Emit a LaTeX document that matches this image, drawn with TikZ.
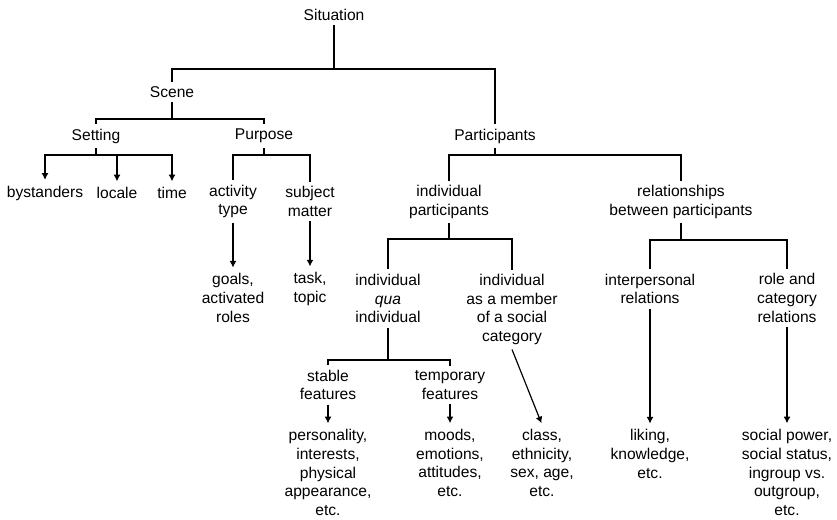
\documentclass[tikz,border=0pt]{standalone}
\usepackage{fontspec}
\setmainfont{Liberation Sans}
\usetikzlibrary{arrows.meta}

\begin{document}
\begin{tikzpicture}[x=0.75pt, y=-0.75pt, line width=0.9pt,
                        lbl/.style={align=center, inner xsep=0pt, inner ysep=3pt,
                                    font=\fontsize{11.7}{14.06}\selectfont},
                        pil/.style={-{Latex[length=5pt,width=5.2pt]}, shorten >=1pt}
                        ]
    \useasboundingbox (0,0) rectangle (837,519);
    % top levels
    \node (sit) [lbl] at (334,15) {Situation};
    \node (scene) [lbl] at (172,92) {Scene};
    \node (setting) [lbl] at (96,136) {Setting};
    \node (purpose) [lbl] at (264,136) {Purpose};
    \node (part) [lbl] at (495,136) {Participants};
    % scene
    \node (bys) [lbl] at (45,193) {bystanders};
    \node (loc) [lbl] at (117,193) {locale};
    \node (time) [lbl] at (172,193) {time};
    \node (act) [lbl] at (233,201.5) {activity\\type};
    \node (subj) [lbl] at (310,201.5) {subject\\matter};
    \node (goals) [lbl] at (233,298) {goals,\\activated\\roles};
    \node (task) [lbl] at (310,289) {task,\\topic};
    % participants
    \node (indp) [lbl] at (449,202) {individual\\participants};
    \node (rel) [lbl] at (681,202) {relationships\\between participants};
    \node (qua) [lbl] at (388,298.5) {individual\\\textit{qua}\\individual};
    \node (memb) [lbl] at (512,309.5) {individual\\as a member\\of a social\\category};
    \node (inter) [lbl] at (650,289) {interpersonal\\relations};
    \node (role) [lbl] at (787,298) {role and\\category\\relations};
    \node (stab) [lbl] at (328,385) {stable\\features};
    \node (temp) [lbl] at (450,385) {temporary\\features};
    \node (pers) [lbl] at (328,472.5) {personality,\\interests,\\physical\\appearance,\\etc.};
    \node (mood) [lbl] at (450,463) {moods,\\emotions,\\attitudes,\\etc.};
    \node (class) [lbl] at (542,463) {class,\\ethnicity,\\sex, age,\\etc.};
    \node (lik) [lbl] at (650,454) {liking,\\knowledge,\\etc.};
    \node (pow) [lbl] at (787,472.5) {social power,\\social status,\\ingroup vs.\\outgroup,\\etc.};

    \draw (sit.south) -- (sit.south |- 0,69) -| (scene.north);
    \draw (sit.south |- 0,69) -| (part.north);
    \draw (scene.south) -- (scene.south |- 0,119) -| (setting.north);
    \draw (scene.south |- 0,119) -| (purpose.north);
    \draw (setting.south) -- (setting.south |- 0,155);
    \draw[pil] (setting.south |- 0,155) -| (bys.north);
    \draw[pil] (setting.south |- 0,155) -| (time.north);
    \draw[pil] (loc.north |- 0,155) -- (loc.north);
    \draw (purpose.south) -- (purpose.south |- 0,155) -| (act.north);
    \draw (purpose.south |- 0,155) -| (subj.north);
    \draw[pil] (act.south) -- (goals.north);
    \draw[pil] (subj.south) -- (task.north);
    \draw (part.south) -- (part.south |- 0,155) -| (indp.north);
    \draw (part.south |- 0,155) -| (rel.north);
    \draw (indp.south) -- (indp.south |- 0,239) -| (qua.north);
    \draw (indp.south |- 0,239) -| (memb.north);
    \draw (rel.south) -- (rel.south |- 0,240) -| (inter.north);
    \draw (rel.south |- 0,240) -| (role.north);
    \draw (qua.south) -- (qua.south |- 0,360) -| (stab.north);
    \draw (qua.south |- 0,360) -| (temp.north);
    \draw[pil] (stab.south) -- (pers.north);
    \draw[pil] (temp.south) -- (mood.north);
    \draw[pil] (memb.south) -- (class.north);
    \draw[pil] (inter.south) -- (lik.north);
    \draw[pil] (role.south) -- (pow.north);
\end{tikzpicture}
\end{document}
